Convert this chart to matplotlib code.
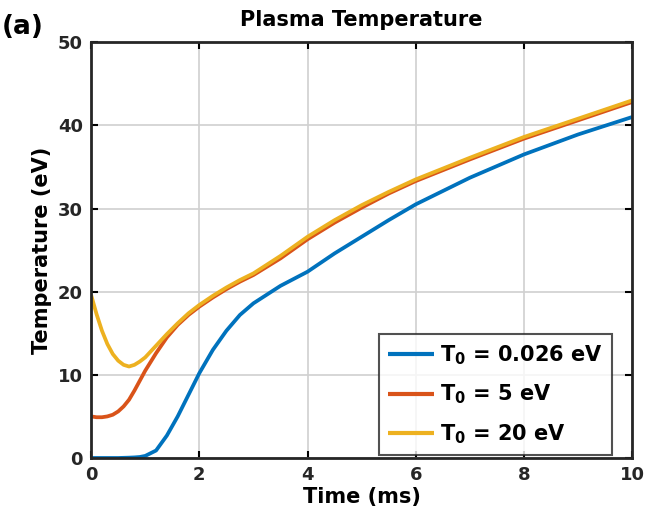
import matplotlib
matplotlib.use("Agg")
import matplotlib.pyplot as plt

t = [0, 0.1, 0.2, 0.3, 0.4, 0.5, 0.6, 0.7, 0.8, 0.9, 1.0, 1.2, 1.4, 1.6, 1.8, 2.0, 2.25, 2.5, 2.75, 3.0,
     3.5, 4.0, 4.5, 5.0, 5.5, 6.0, 7.0, 8.0, 9.0, 10.0]
T_cold = [0, 0, 0, 0, 0, 0, 0.02, 0.04, 0.07, 0.12, 0.25, 0.9, 2.7, 5.0, 7.6, 10.2, 13.0, 15.3, 17.2, 18.6,
          20.7, 22.4, 24.6, 26.6, 28.6, 30.5, 33.7, 36.5, 38.9, 41.0]
T_5 = [5.0, 4.9, 4.9, 5.0, 5.2, 5.6, 6.2, 7.0, 8.1, 9.3, 10.5, 12.6, 14.5, 16.0, 17.2, 18.2, 19.3, 20.3, 21.2, 22.0,
       24.0, 26.3, 28.3, 30.1, 31.8, 33.3, 35.9, 38.4, 40.6, 42.8]
T_20 = [19.6, 17.3, 15.3, 13.7, 12.5, 11.7, 11.2, 11.0, 11.2, 11.6, 12.1, 13.5, 14.9, 16.2, 17.4, 18.4, 19.5, 20.5, 21.4, 22.2,
        24.3, 26.6, 28.6, 30.4, 32.0, 33.5, 36.1, 38.6, 40.8, 43.0]

labels = ["T$_\\mathbf{0}$ = 0.026 eV", "T$_\\mathbf{0}$ = 5 eV", "T$_\\mathbf{0}$ = 20 eV"]
colors = ["#0072BD", "#D95319", "#EDB120"]
xticks = [0, 2, 4, 6, 8, 10]
yticks = [0, 10, 20, 30, 40, 50]

plt.rcParams['font.family'] = ['DejaVu Sans']
plt.rcParams['font.weight'] = 'bold'
plt.rcParams['mathtext.default'] = 'bf'

fig = plt.figure(figsize=(6.51, 5.28), dpi=100)
ax = fig.add_axes([0.14, 0.1326, 0.831, 0.7875])

for y, c, lab in zip([T_cold, T_5, T_20], colors, labels):
    ax.plot(t, y, color=c, lw=2.7, label=lab, solid_capstyle='butt')

ax.set_xlim(0, 10)
ax.set_ylim(0, 50)
ax.set_xticks(xticks)
ax.set_yticks(yticks)
ax.grid(True, color='#d0d0d0', lw=1.2)
ax.set_axisbelow(True)
ax.tick_params(direction='in', length=5, width=1.5, top=True, right=True, labelsize=13, pad=6)
for lbl in ax.get_xticklabels() + ax.get_yticklabels():
    lbl.set_fontweight('bold')
    lbl.set_color('#262626')
for s in ax.spines.values():
    s.set_linewidth(2)
    s.set_color('#262626')

ax.set_xlabel("Time (ms)", fontsize=15, fontweight='bold', labelpad=2)
ax.set_ylabel("Temperature (eV)", fontsize=15, fontweight='bold', labelpad=4)
ax.set_title("Plasma Temperature", fontsize=15, fontweight='bold', pad=12)
fig.text(0.003, 0.935, "(a)", fontsize=19, fontweight='bold')

leg = ax.legend(loc='lower right', bbox_to_anchor=(0.963, 0.007), fontsize=15, frameon=True, fancybox=False,
                edgecolor='#262626', handlelength=2.2, handletextpad=0.3,
                borderaxespad=0.0, labelspacing=0.75, borderpad=0.45)
leg.get_frame().set_linewidth(1.5)
for line in leg.get_lines():
    line.set_linewidth(3)
for txt in leg.get_texts():
    txt.set_fontweight('bold')

fig.savefig("out.png", dpi=100)
